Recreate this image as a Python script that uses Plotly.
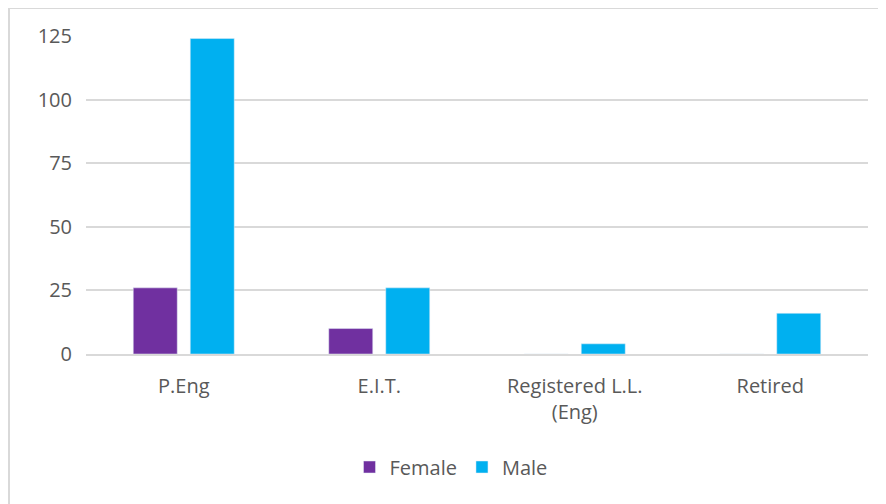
import plotly.graph_objects as go

categories = ["P.Eng", "E.I.T.", "Registered L.L.<br>(Eng)", "Retired"]
female = [26, 10, 0, 0]
male = [124, 26, 4, 16]
y_ticks = [0, 25, 50, 75, 100, 125]

W, H = 886, 504
OFF = 8  # page body margin offset
# desired plot area in page pixels
PL, PR, PT, PB = 86, 868, 36, 354
L = PL - OFF
T = PT - OFF
R = W - (PR - OFF)
B = H - (PB - OFF)
pw, ph = PR - PL, PB - PT

def px_x(p):
    return (p - PL) / pw

def px_y(p):
    return (PB - p) / ph

font = dict(family="'Open Sans', sans-serif", size=20, color="#595959")

fig = go.Figure()
fig.add_trace(go.Bar(name="Female", x=categories, y=female, marker_color="#7030A0"))
fig.add_trace(go.Bar(name="Male", x=categories, y=male, marker_color="#00B0F0"))

fig.update_layout(
    width=W, height=H,
    margin=dict(l=L, r=R, t=T, b=B),
    paper_bgcolor="white", plot_bgcolor="white",
    barmode="group", bargap=0.417, bargroupgap=0.228,
    font=font,
    showlegend=True,
    legend=dict(orientation="h", x=px_x(451), xanchor="center",
                y=px_y(467), yanchor="middle", font=font,
                itemwidth=30, traceorder="normal"),
    xaxis=dict(showgrid=False, showline=True, linecolor="#D9D9D9", linewidth=1.5,
               ticks="", tickfont=font, ticklabelstandoff=13),
    yaxis=dict(range=[0, 125], tickvals=y_ticks, showgrid=True, gridcolor="#D9D9D9",
               gridwidth=1.5, zeroline=False, showline=False, ticks="",
               tickfont=font, ticklabelstandoff=13),
    shapes=[
        dict(type="line", xref="paper", yref="paper", x0=px_x(8), x1=px_x(900),
             y0=px_y(8), y1=px_y(8), line=dict(color="#D9D9D9", width=2)),
        dict(type="line", xref="paper", yref="paper", x0=px_x(9), x1=px_x(9),
             y0=px_y(8), y1=px_y(520), line=dict(color="#D9D9D9", width=2)),
    ],
)

fig.write_html("out.html")
